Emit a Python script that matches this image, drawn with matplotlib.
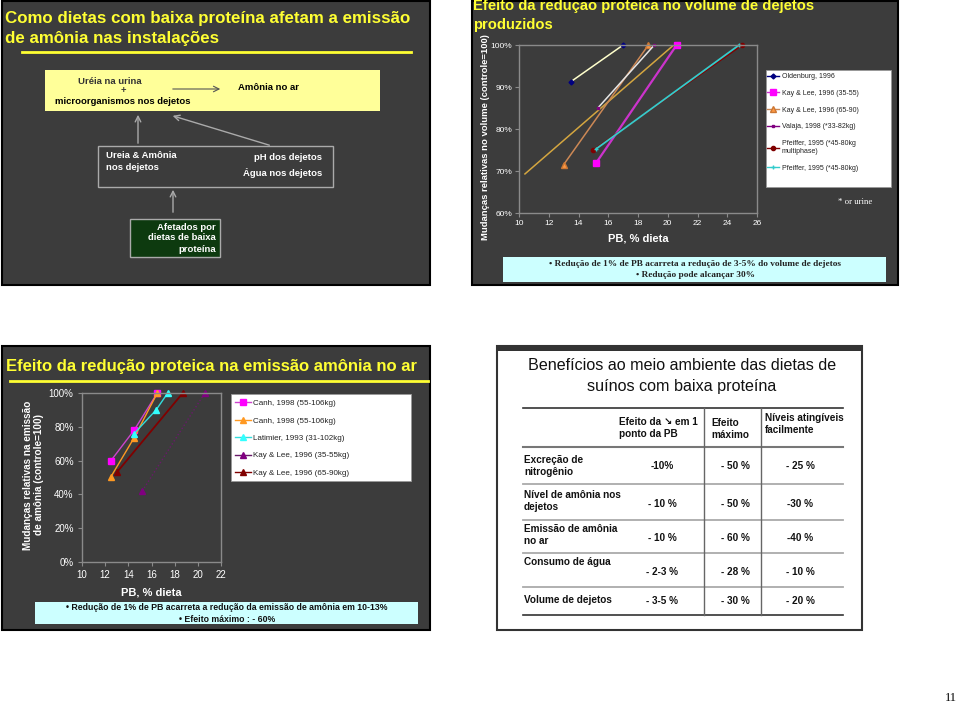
import matplotlib
matplotlib.use("Agg")
import matplotlib.pyplot as plt
from matplotlib.patches import Rectangle
from matplotlib.ticker import PercentFormatter
from matplotlib.lines import Line2D

plt.rcParams['font.family'] = ['Liberation Sans', 'DejaVu Sans']

W, H = 960, 706

# ---------------- data: top-right chart (volume de dejetos) ----------------
tr_labels = ["Oldenburg, 1996", "Kay & Lee, 1996 (35-55)", "Kay & Lee, 1996 (65-90)",
             "Valaja, 1998 (*33-82kg)", "Pfeiffer, 1995 (*45-80kg\nmultiphase)",
             "Pfeiffer, 1995 (*45-80kg)"]
tr_x = [[13.5, 17.0], [15.2, 20.6], [13.0, 18.7], [15.3, 19.1], [15.0, 25.0], [15.2, 24.8]]
tr_y = [[91.3, 100], [72.0, 100], [71.5, 100], [85.0, 100], [75.0, 100], [75.3, 100]]
tr_extra_x = [10.4, 20.4]
tr_extra_y = [69.3, 100]
tr_xticks = [10, 12, 14, 16, 18, 20, 22, 24, 26]
tr_yticks = [60, 70, 80, 90, 100]

# ---------------- data: bottom-left chart (emissão de amônia) ----------------
bl_labels = ["Canh, 1998 (55-106kg)", "Canh, 1998 (55-106kg)", "Latimier, 1993 (31-102kg)",
             "Kay & Lee, 1996 (35-55kg)", "Kay & Lee, 1996 (65-90kg)"]
bl_x = [[12.5, 14.5, 16.5], [12.5, 14.5, 16.5], [14.5, 16.4, 17.4], [15.2, 20.6], [13.0, 18.7]]
bl_y = [[60, 78, 100], [50.5, 73.5, 100], [76, 90, 100], [42, 100], [53, 100]]
bl_xticks = [10, 12, 14, 16, 18, 20, 22]
bl_yticks = [0, 20, 40, 60, 80, 100]

# ---------------- data: table ----------------
tab_header = ["Efeito da \u2198 em 1\nponto da PB", "Efeito\nmáximo", "Níveis atingíveis\nfacilmente"]
tab_rows = ["Excreção de\nnitrogênio", "Nível de amônia nos\ndejetos", "Emissão de amônia\nno ar",
            "Consumo de água", "Volume de dejetos"]
tab_col1 = ["-10%", "- 10 %", "- 10 %", "- 2-3 %", "- 3-5 %"]
tab_col2 = ["- 50 %", "- 50 %", "- 60 %", "- 28 %", "- 30 %"]
tab_col3 = ["- 25 %", "-30 %", "-40 %", "- 10 %", "- 20 %"]

# ---------------- figure ----------------
fig = plt.figure(figsize=(9.6, 7.06), dpi=100)
fig.patch.set_facecolor('white')
ov = fig.add_axes([0, 0, 1, 1])
ov.set_xlim(0, W)
ov.set_ylim(H, 0)
ov.axis('off')
ov.set_zorder(0)

BG = '#3c3c3c'
YEL = '#ffff33'

def rect(x0, y0, x1, y1, fc, ec='none', lw=1.0, z=1):
    ov.add_patch(Rectangle((x0, y0), x1 - x0, y1 - y0, facecolor=fc, edgecolor=ec, lw=lw, zorder=z))

def txt(x, y, s, **kw):
    kw.setdefault('zorder', 5)
    ov.text(x, y, s, **kw)

def axes_px(x0, y0, x1, y1):
    return fig.add_axes([x0 / W, 1 - y1 / H, (x1 - x0) / W, (y1 - y0) / H])

# slide backgrounds
rect(2, 1, 430, 285, BG, 'black', 1.5)
rect(472, 1, 898, 285, BG, 'black', 1.5)
rect(2, 346, 430, 630, BG, 'black', 1.5)
rect(497, 346, 862, 630, 'white', '#333333', 1.5)
rect(497, 346, 862, 351, '#333333', 'none')

# ---------------- top-left slide: diagram ----------------
txt(5, 19, "Como dietas com baixa proteína afetam a emissão", color=YEL, fontsize=12.2,
    fontweight='bold', va='center', ha='left')
txt(5, 39, "de amônia nas instalações", color=YEL, fontsize=12.2,
    fontweight='bold', va='center', ha='left')
ov.plot([22, 411], [52, 52], color=YEL, lw=2, zorder=3)

rect(45, 70, 380, 111, '#ffff99', 'none')
txt(110, 82, "Uréia na urina", fontsize=6.8, fontweight='bold', color='#333333', ha='center', va='center')
txt(123, 91, "+", fontsize=6.8, fontweight='bold', color='#333333', ha='center', va='center')
txt(123, 102, "microorganismos nos dejetos", fontsize=6.8, fontweight='bold', color='black', ha='center', va='center')
ov.annotate('', xy=(223, 89), xytext=(170, 89),
            arrowprops=dict(arrowstyle='->', color='#555555', lw=0.8), zorder=4)
txt(238, 88, "Amônia no ar", fontsize=6.8, fontweight='bold', color='black', ha='left', va='center')

rect(98, 146, 333, 187, 'none', '#aaaaaa', 1.0)
txt(106, 155, "Ureia & Amônia", fontsize=6.8, fontweight='bold', color='white', ha='left', va='center')
txt(106, 167, "nos dejetos", fontsize=6.8, fontweight='bold', color='white', ha='left', va='center')
txt(322, 158, "pH dos dejetos", fontsize=6.8, fontweight='bold', color='white', ha='right', va='center')
txt(322, 173, "Água nos dejetos", fontsize=6.8, fontweight='bold', color='white', ha='right', va='center')
ov.annotate('', xy=(138, 112), xytext=(138, 146),
            arrowprops=dict(arrowstyle='->', color='#aaaaaa', lw=1.0), zorder=4)
ov.annotate('', xy=(170, 115), xytext=(272, 146),
            arrowprops=dict(arrowstyle='->', color='#aaaaaa', lw=1.0), zorder=4)
ov.annotate('', xy=(173, 187), xytext=(173, 215),
            arrowprops=dict(arrowstyle='->', color='#aaaaaa', lw=1.0), zorder=4)

rect(130, 219, 220, 257, '#0d3a0f', '#aaaaaa', 1.0)
txt(216, 227, "Afetados por", fontsize=6.8, fontweight='bold', color='white', ha='right', va='center')
txt(216, 238, "dietas de baixa", fontsize=6.8, fontweight='bold', color='white', ha='right', va='center')
txt(216, 249, "proteína", fontsize=6.8, fontweight='bold', color='white', ha='right', va='center')

# ---------------- top-right slide: chart ----------------
txt(473, 6, "Efeito da reduçao proteica no volume de dejetos", color=YEL, fontsize=10.6,
    fontweight='bold', va='center', ha='left')
txt(473, 25, "produzidos", color=YEL, fontsize=10.6, fontweight='bold', va='center', ha='left')

ax1 = axes_px(519, 45, 757, 213)
ax1.set_zorder(2)
ax1.set_facecolor('none')
tr_styles = [
    dict(color='#ffffcc', marker='D', mfc='#000080', mec='#000080', ms=2.5, lw=1.1),
    dict(color='#cc33cc', marker='s', mfc='#ff00ff', mec='#ff00ff', ms=4, lw=1.6),
    dict(color='#cc8855', marker='^', mfc='#ff9944', mec='#cc7733', ms=4, lw=1.1),
    dict(color='#e6e6e6', marker='s', mfc='#800080', mec='#800080', ms=2, lw=1.1),
    dict(color='#800000', marker='o', mfc='#800000', mec='#800000', ms=3, lw=1.1),
    dict(color='#33cccc', marker='+', mfc='#33cccc', mec='#33cccc', ms=3, lw=1.3),
]
ax1.plot(tr_extra_x, tr_extra_y, color='#d4a640', lw=1.1, label='_nolegend_')
for xs, ys, lab, st in zip(tr_x, tr_y, tr_labels, tr_styles):
    ax1.plot(xs, ys, label=lab, clip_on=False, **st)
ax1.set_xlim(10, 26)
ax1.set_ylim(60, 100)
ax1.set_xticks(tr_xticks)
ax1.set_yticks(tr_yticks)
ax1.yaxis.set_major_formatter(PercentFormatter(xmax=100, decimals=0))
for sp in ax1.spines.values():
    sp.set_color('#8a8a8a')
    sp.set_linewidth(1.0)
ax1.tick_params(colors='#8a8a8a', labelcolor='white', labelsize=6.0, length=3, width=0.8, pad=2)
ax1.set_xlabel("PB, % dieta", color='white', fontsize=8.0, fontweight='bold', labelpad=5)
ax1.set_ylabel("Mudanças relativas no volume (controle=100)", color='white', fontsize=6.8,
               fontweight='bold', labelpad=4)
ax1.yaxis.set_label_coords(-0.12, 0.45)

rect(766, 70, 891, 187, 'white', '#999999', 0.6)
leg1_handles = []
for st in tr_styles:
    leg1_handles.append(Line2D([], [], color=st['color'] if st['color'] not in ('#ffffcc', '#e6e6e6') else st['mfc'],
                               marker=st['marker'], mfc=st['mfc'], mec=st['mec'], ms=st['ms'], lw=1.0))
leg1 = ax1.legend(leg1_handles, tr_labels, loc='upper left', bbox_to_anchor=(765 / W, 1 - 71 / H),
                  bbox_transform=fig.transFigure, frameon=False, fontsize=5.0, labelspacing=1.4,
                  handlelength=1.7, handletextpad=0.4, borderpad=0.3, borderaxespad=0)
for t in leg1.get_texts():
    t.set_color('#222222')

txt(872, 202, "* or urine", color='white', fontsize=6.3, family='Liberation Serif', ha='right', va='center')

rect(503, 257, 886, 282, '#ccffff', 'none')
txt(695, 264, "• Redução de 1% de PB acarreta a redução de 3-5% do volume de dejetos",
    fontsize=6.7, fontweight='bold', family='Liberation Serif', color='#222222', ha='center', va='center')
txt(695, 275, "• Redução pode alcançar 30%",
    fontsize=6.7, fontweight='bold', family='Liberation Serif', color='#222222', ha='center', va='center')

# ---------------- bottom-left slide: chart ----------------
txt(6, 367, "Efeito da redução proteica na emissão amônia no ar", color=YEL, fontsize=12,
    fontweight='bold', va='center', ha='left')
ov.plot([10, 428], [381, 381], color=YEL, lw=2, zorder=3)

ax2 = axes_px(82, 393, 221, 562)
ax2.set_zorder(2)
ax2.set_facecolor('none')
bl_styles = [
    dict(color='#cc44cc', marker='s', mfc='#ff00ff', mec='#ff00ff', ms=5, lw=1.0),
    dict(color='#ff9922', marker='^', mfc='#ff9922', mec='#ff9922', ms=5, lw=1.0),
    dict(color='#33dddd', marker='^', mfc='#33ffff', mec='#33ffff', ms=5, lw=1.0),
    dict(color='#6a1a6a', marker='^', mfc='#800080', mec='#800080', ms=5, lw=1.0, ls=':'),
    dict(color='#800000', marker='^', mfc='#800000', mec='#800000', ms=5, lw=1.3),
]
for xs, ys, lab, st in zip(bl_x, bl_y, bl_labels, bl_styles):
    ax2.plot(xs, ys, label=lab, clip_on=False, **st)
ax2.set_xlim(10, 22)
ax2.set_ylim(0, 100)
ax2.set_xticks(bl_xticks)
ax2.set_yticks(bl_yticks)
ax2.yaxis.set_major_formatter(PercentFormatter(xmax=100, decimals=0))
for sp in ax2.spines.values():
    sp.set_color('#8a8a8a')
    sp.set_linewidth(1.0)
ax2.tick_params(colors='#8a8a8a', labelcolor='white', labelsize=7.0, length=3, width=0.8, pad=3)
ax2.set_xlabel("PB, % dieta", color='white', fontsize=8.0, fontweight='bold', labelpad=5)
ax2.set_ylabel("Mudanças relativas na emissão\nde amônia (controle=100)", color='white', fontsize=7.2,
               fontweight='bold', labelpad=6)
ax2.yaxis.set_label_coords(-0.27, 0.515)

rect(231, 394, 411, 481, 'white', '#999999', 0.6)
leg2_handles = [Line2D([], [], color=st['color'], marker=st['marker'], mfc=st['mfc'], mec=st['mec'],
                       ms=4.5, lw=1.0) for st in bl_styles]
leg2 = ax2.legend(leg2_handles, bl_labels, loc='upper left', bbox_to_anchor=(233 / W, 1 - 397 / H),
                  bbox_transform=fig.transFigure, frameon=False, fontsize=5.8, labelspacing=1.22,
                  handlelength=1.9, handletextpad=0.3, borderpad=0.3, borderaxespad=0)
for t in leg2.get_texts():
    t.set_color('#222222')

rect(35, 602, 418, 624, '#ccffff', 'none')
txt(227, 608, "• Redução de 1% de PB acarreta a redução da emissão de amônia em 10-13%",
    fontsize=6.3, fontweight='bold', color='#111111', ha='center', va='center')
txt(227, 619, "• Efeito máximo : - 60%",
    fontsize=6.3, fontweight='bold', color='#111111', ha='center', va='center')

# ---------------- bottom-right slide: table ----------------
txt(682, 366, "Benefícios ao meio ambiente das dietas de", fontsize=11.6, color='#111111',
    ha='center', va='center')
txt(682, 386, "suínos com baixa proteína", fontsize=11.6, color='#111111', ha='center', va='center')

ov.plot([523, 843], [408, 408], color='#333333', lw=1.2, zorder=3)
ov.plot([523, 843], [447, 447], color='#777777', lw=1.5, zorder=3)
for yy in [484, 520, 553, 587]:
    ov.plot([523, 843], [yy, yy], color='#aaaaaa', lw=1.3, zorder=3)
ov.plot([523, 843], [615, 615], color='#333333', lw=1.2, zorder=3)
for xx in [704, 761]:
    ov.plot([xx, xx], [408, 615], color='#666666', lw=1.0, zorder=3)

hdr_x = [619, 711, 765]
hdr_y = [428, 429, 424]
for s, x, y in zip(tab_header, hdr_x, hdr_y):
    txt(x, y, s, fontsize=7.2, fontweight='bold', color='#111111', ha='left', va='center',
        linespacing=1.2, family=['Liberation Sans', 'DejaVu Sans'])

row_label_y = [466, 501, 535, 562, 600]
val_y = [466, 504, 538, 572, 601]
for lab, y in zip(tab_rows, row_label_y):
    txt(524, y, lab, fontsize=7.2, fontweight='bold', color='#111111', ha='left', va='center',
        linespacing=1.25)
for v1, v2, v3, y in zip(tab_col1, tab_col2, tab_col3, val_y):
    txt(662, y, v1, fontsize=7.2, fontweight='bold', color='#111111', ha='center', va='center')
    txt(735, y, v2, fontsize=7.2, fontweight='bold', color='#111111', ha='center', va='center')
    txt(800, y, v3, fontsize=7.2, fontweight='bold', color='#111111', ha='center', va='center')

# page number
txt(957, 698, "11", fontsize=9, family='Liberation Serif', color='black', ha='right', va='center')

fig.savefig("out.png", dpi=100, facecolor='white')
